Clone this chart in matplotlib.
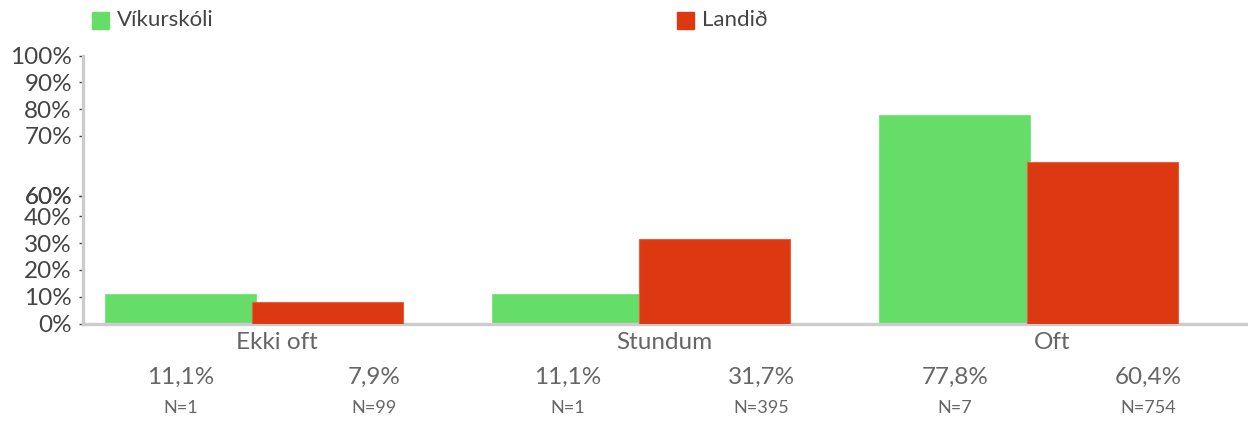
import matplotlib.pyplot as plt
from matplotlib.patches import Rectangle
import numpy as np

plt.rcParams['font.family'] = ['Lato', 'DejaVu Sans']

categories = ["Ekki oft", "Stundum", "Oft"]
series_names = ["Víkurskóli", "Landið"]
school_pct = [11.1, 11.1, 77.8]
country_pct = [7.9, 31.7, 60.4]
school_n = [1, 1, 7]
country_n = [99, 395, 754]
# the reference draws 50% and 60% on top of each other, just below 50
ytick_vals = [0, 10, 20, 30, 40, 47.7, 47.7, 70, 80, 90, 100]
ytick_labels = ["0%", "10%", "20%", "30%", "40%", "50%", "60%", "70%", "80%", "90%", "100%"]

green = "#66dc69"
red = "#dc3912"

fig = plt.figure(figsize=(12.48, 4.26), dpi=100)
ax = fig.add_axes([83 / 1248, 1 - 323.5 / 426, 1 - 83 / 1248, 268 / 426])

x = np.arange(len(categories))
w = 0.39
off = 0.19
ax.bar(x - off, school_pct, width=w, color=green, edgecolor="#7fe682", linewidth=0.8, zorder=2)
ax.bar(x + off, country_pct, width=w, color=red, edgecolor="#e5603f", linewidth=0.8, zorder=3)

ax.set_xlim(-0.442, 2.567)
ax.set_ylim(0, 100)
ax.set_yticks(ytick_vals)
ax.set_yticklabels(ytick_labels, fontsize=17.5, color="#444444")
ax.set_xticks([])
ax.tick_params(axis="y", length=3, width=1, color="#444444", pad=5)

for s in ["top", "right"]:
    ax.spines[s].set_visible(False)
for s in ["left", "bottom"]:
    ax.spines[s].set_color("#cccccc")
    ax.spines[s].set_linewidth(2.4)

tr = ax.get_xaxis_transform()
for i, cat in enumerate(categories):
    ax.text(i + 0.06, -0.072, cat, transform=tr, ha="center", va="center",
            fontsize=17.5, color="#666666")
    for dx, pct, n in [(-0.19, school_pct[i], school_n[i]), (0.31, country_pct[i], country_n[i])]:
        ax.text(i + dx, -0.2, f"{pct:.1f}%".replace(".", ","), transform=tr,
                ha="center", va="center", fontsize=17.5, color="#666666")
        ax.text(i + dx, -0.315, f"N={n}", transform=tr, ha="center", va="center",
                fontsize=13, color="#666666")

# legend
for px, col, name in [(92, green, series_names[0]), (677, red, series_names[1])]:
    fig.add_artist(Rectangle((px / 1248, 1 - 29 / 426), 17 / 1248, 17 / 426,
                             transform=fig.transFigure, color=col))
    fig.text((px + 25) / 1248, 1 - 20 / 426, name, ha="left", va="center",
             fontsize=16, color="#444444")

fig.savefig("out.png", dpi=100)
